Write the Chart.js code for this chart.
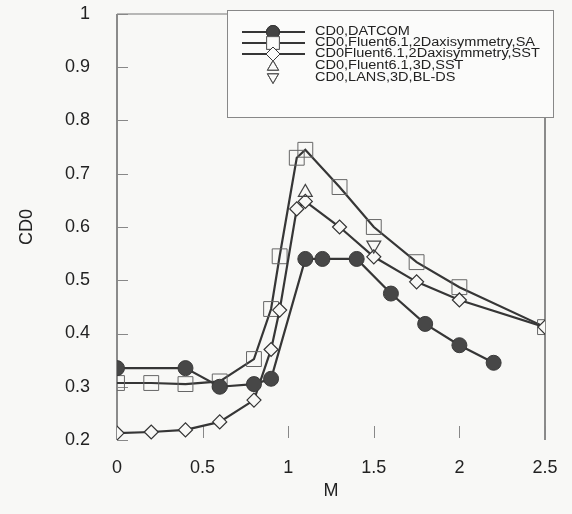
<!DOCTYPE html>
<html>
<head>
<meta charset="utf-8">
<script src="https://cdn.jsdelivr.net/npm/chart.js@4/dist/chart.umd.min.js"></script>
<style>
  html, body { margin: 0; padding: 0; background: #f8f8f6; }
  #wrap { width: 572px; height: 514px; }
</style>
</head>
<body>
<div id="wrap"><canvas id="cd0Chart"></canvas></div>
<script>
// values
const machDatcom = [0, 0.4, 0.6, 0.8, 0.9, 1.1, 1.2, 1.4, 1.6, 1.8, 2.0, 2.2];
const cd0Datcom  = [0.335, 0.335, 0.3, 0.305, 0.315, 0.54, 0.54, 0.54, 0.475, 0.418, 0.378, 0.345];

const machSA = [0, 0.2, 0.4, 0.6, 0.8, 0.9, 0.95, 1.05, 1.1, 1.3, 1.5, 1.75, 2.0, 2.5];
const cd0SA  = [0.307, 0.307, 0.305, 0.31, 0.352, 0.446, 0.545, 0.73, 0.745, 0.675, 0.6, 0.534, 0.487, 0.412];

const machSST = [0, 0.2, 0.4, 0.6, 0.8, 0.9, 0.95, 1.05, 1.1, 1.3, 1.5, 1.75, 2.0, 2.5];
const cd0SST  = [0.213, 0.215, 0.219, 0.234, 0.275, 0.37, 0.444, 0.634, 0.648, 0.6, 0.544, 0.497, 0.463, 0.412];

const mach3D = [1.1];
const cd03D  = [0.665];

const machLANS = [1.5];
const cd0LANS  = [0.566];

const xTicks = [0, 0.5, 1, 1.5, 2, 2.5];
const yTicks = [0.2, 0.3, 0.4, 0.5, 0.6, 0.7, 0.8, 0.9, 1];

const seriesNames = [
  'CD0,DATCOM',
  'CD0,Fluent6.1,2Daxisymmetry,SA',
  'CD0Fluent6.1,2Daxisymmetry,SST',
  'CD0,Fluent6.1,3D,SST',
  'CD0,LANS,3D,BL-DS'
];

const pts = (xs, ys) => xs.map((x, i) => ({ x, y: ys[i] }));
const ink = '#363636';
const fontFam = '"Liberation Sans", Arial, sans-serif';

// frame + inward ticks
const frameTicks = {
  id: 'frameTicks',
  beforeDatasetsDraw(chart) {
    const { ctx, chartArea: a, scales } = chart;
    ctx.save();
    ctx.strokeStyle = '#444';
    ctx.lineWidth = 1.2;
    ctx.beginPath();
    ctx.moveTo(a.left, a.bottom); ctx.lineTo(a.left, a.top);
    ctx.moveTo(a.right, a.top); ctx.lineTo(a.right, a.bottom);
    ctx.stroke();
    ctx.strokeStyle = '#777';
    ctx.lineWidth = 1;
    ctx.beginPath();
    ctx.moveTo(a.left, a.top); ctx.lineTo(a.right, a.top);
    ctx.stroke();
    ctx.strokeStyle = '#888';
    ctx.beginPath();
    yTicks.forEach(v => {
      const y = Math.round(scales.y.getPixelForValue(v)) + 0.5;
      ctx.moveTo(a.left, y); ctx.lineTo(a.left + 11, y);
    });
    xTicks.forEach(v => {
      const x = Math.round(scales.x.getPixelForValue(v)) + 0.5;
      ctx.moveTo(x, a.bottom - 2); ctx.lineTo(x, a.bottom - 14);
    });
    ctx.stroke();
    ctx.restore();
  }
};

function marker(ctx, style, x, y, r, rot, fill) {
  Chart.helpers.drawPoint(ctx, { pointStyle: style, radius: r, rotation: rot || 0, borderWidth: 1 }, x, y);
  if (fill) ctx.fill();
  ctx.stroke();
}

// boxed legend inside the plot
const boxLegend = {
  id: 'boxLegend',
  afterDraw(chart) {
    const ctx = chart.ctx;
    ctx.save();
    ctx.fillStyle = '#fbfbfa';
    ctx.strokeStyle = '#888';
    ctx.lineWidth = 1;
    ctx.fillRect(227, 10, 326, 107);
    ctx.strokeRect(227.5, 10.5, 326, 107);

    const rows = [32, 43, 54, 66, 78];
    ctx.font = '12px ' + fontFam;
    ctx.textBaseline = 'middle';
    const target = 220 / ctx.measureText(seriesNames[1]).width;
    rows.forEach((y, i) => {
      ctx.strokeStyle = ink;
      if (i < 3) {
        ctx.lineWidth = 2;
        ctx.beginPath(); ctx.moveTo(242, y); ctx.lineTo(305, y); ctx.stroke();
      }
      ctx.lineWidth = 1;
      ctx.fillStyle = i === 0 ? '#444' : '#fbfbfa';
      if (i === 0) marker(ctx, 'circle', 273, y, 6.5, 0, true);
      if (i === 1) { ctx.strokeStyle = '#555'; marker(ctx, 'rect', 273, y, 9, 0, true); }
      if (i === 2) marker(ctx, 'rectRot', 273, y, 7, 0, true);
      if (i === 3) { ctx.strokeStyle = '#555'; marker(ctx, 'triangle', 273, y + 1, 6.5, 0, false); }
      if (i === 4) { ctx.strokeStyle = '#555'; marker(ctx, 'triangle', 273, y - 1, 6.5, 180, false); }
      ctx.fillStyle = '#222';
      ctx.save();
      ctx.translate(315, y);
      ctx.scale(target, 1);
      ctx.fillText(seriesNames[i], 0, 0);
      ctx.restore();
    });
    ctx.restore();
  }
};

new Chart(document.getElementById('cd0Chart'), {
  type: 'line',
  data: {
    datasets: [
      {
        label: seriesNames[0], data: pts(machDatcom, cd0Datcom),
        borderColor: ink, borderWidth: 2.2, tension: 0,
        pointStyle: 'circle', pointRadius: 7.5, pointBackgroundColor: '#474747',
        pointBorderColor: '#3a3a3a', pointBorderWidth: 1, order: 1
      },
      {
        label: seriesNames[1], data: pts(machSA, cd0SA),
        borderColor: ink, borderWidth: 2.2, tension: 0,
        pointStyle: 'rect', pointRadius: 10.5, pointBackgroundColor: 'rgba(0,0,0,0)',
        pointBorderColor: '#666', pointBorderWidth: 1, order: 3
      },
      {
        label: seriesNames[2], data: pts(machSST, cd0SST),
        borderColor: ink, borderWidth: 2.2, tension: 0,
        pointStyle: 'rectRot', pointRadius: 7, pointBackgroundColor: '#f8f8f6',
        pointBorderColor: '#333', pointBorderWidth: 1.2, order: 2
      },
      {
        label: seriesNames[3], data: pts(mach3D, cd03D), showLine: false,
        pointStyle: 'triangle', pointRadius: 8, pointBackgroundColor: 'rgba(0,0,0,0)',
        pointBorderColor: '#444', pointBorderWidth: 1.2, order: 0
      },
      {
        label: seriesNames[4], data: pts(machLANS, cd0LANS), showLine: false,
        pointStyle: 'triangle', pointRotation: 180, pointRadius: 8, pointBackgroundColor: 'rgba(0,0,0,0)',
        pointBorderColor: '#444', pointBorderWidth: 1.2, order: 0
      }
    ]
  },
  options: {
    responsive: true,
    maintainAspectRatio: false,
    animation: false,
    layout: { padding: { top: 14, right: 27, left: 0, bottom: 0 } },
    plugins: { legend: { display: false }, tooltip: { enabled: false } },
    scales: {
      x: {
        type: 'linear', min: 0, max: 2.5,
        afterFit: s => { s.height = 74; s.paddingLeft = 0; s.paddingRight = 0; },
        afterBuildTicks: s => { s.ticks = xTicks.map(v => ({ value: v })); },
        grid: { display: false, drawTicks: false },
        border: { display: false },
        ticks: { padding: 17, color: '#222', font: { family: fontFam, size: 18 }, callback: v => String(v) },
        title: { display: true, text: 'M', color: '#222', font: { family: fontFam, size: 18 }, padding: { top: 0, bottom: 12 } }
      },
      y: {
        type: 'linear', min: 0.2, max: 1,
        afterFit: s => { s.width = 117; s.paddingTop = 0; s.paddingBottom = 0; },
        afterBuildTicks: s => { s.ticks = yTicks.map(v => ({ value: v })); },
        grid: { display: false, drawTicks: false },
        border: { display: false },
        ticks: { padding: 27, color: '#222', font: { family: fontFam, size: 18 }, callback: v => String(v) },
        title: { display: true, text: 'CD0', color: '#222', font: { family: fontFam, size: 18 }, padding: { top: 16, bottom: 0 } }
      }
    }
  },
  plugins: [frameTicks, boxLegend]
});
</script>
</body>
</html>
